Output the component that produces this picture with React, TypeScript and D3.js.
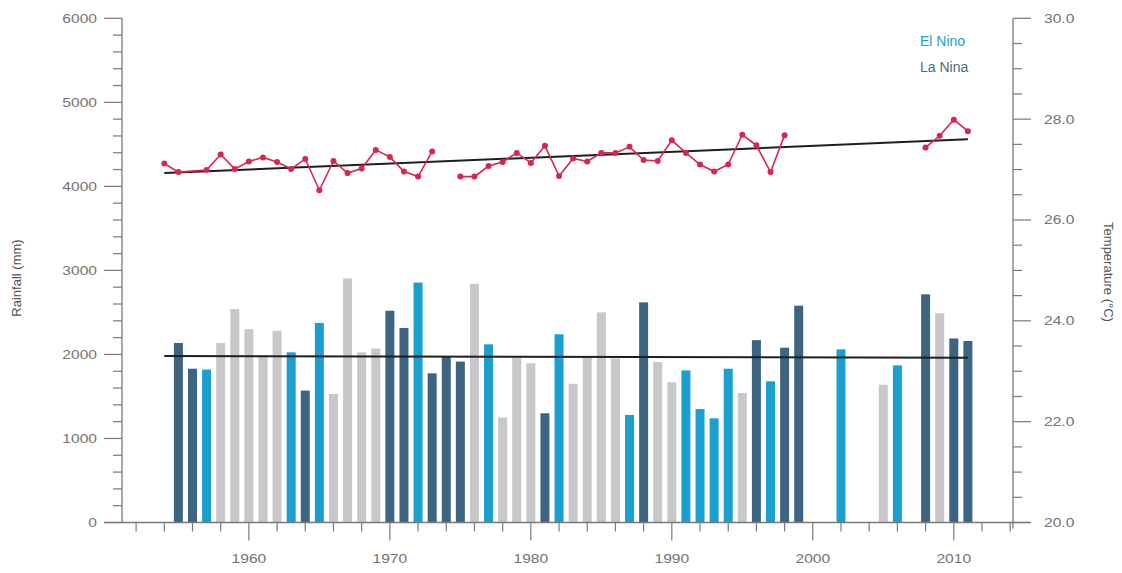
import React from 'react';
import * as d3 from 'd3';

// Rainfall bars (mm) by year, with ENSO phase
const rainYears = [1955,1956,1957,1958,1959,1960,1961,1962,1963,1964,1965,1966,1967,1968,1969,1970,1971,1972,1973,1974,1975,1976,1977,1978,1979,1980,1981,1982,1983,1984,1985,1986,1987,1988,1989,1990,1991,1992,1993,1994,1995,1996,1997,1998,1999,2002,2005,2006,2008,2009,2010,2011];
const rainValues = [2136,1830,1820,2135,2540,2300,1990,2280,2025,1570,2375,1530,2905,2025,2070,2520,2315,2855,1775,1970,1915,2840,2120,1250,1965,1895,1300,2240,1650,1965,2500,1950,1280,2620,1910,1670,1810,1350,1240,1830,1540,2170,1680,2080,2580,2060,1640,1870,2715,2490,2190,2160];
const rainPhase = ['nina','nina','nino','neutral','neutral','neutral','neutral','neutral','nino','nina','nino','neutral','neutral','neutral','neutral','nina','nina','nino','nina','nina','nina','neutral','nino','neutral','neutral','neutral','nina','nino','neutral','neutral','neutral','neutral','nino','nina','neutral','neutral','nino','nino','nino','nino','neutral','nina','nino','nina','nina','nino','neutral','nino','nina','neutral','nina','nina'];

// Mean temperature (°C); null = no data (line break)
const tempYears = [1954,1955,1957,1958,1959,1960,1961,1962,1963,1964,1965,1966,1967,1968,1969,1970,1971,1972,1973,1974,1975,1976,1977,1978,1979,1980,1981,1982,1983,1984,1985,1986,1987,1988,1989,1990,1991,1992,1993,1994,1995,1996,1997,1998,1999,2008,2009,2010,2011];
const tempValues: (number | null)[] = [27.12,26.95,26.99,27.30,27.01,27.16,27.24,27.15,27.01,27.21,26.59,27.17,26.93,27.02,27.39,27.25,26.96,26.86,27.36,null,26.86,26.86,27.07,27.15,27.33,27.13,27.47,26.87,27.22,27.16,27.33,27.33,27.45,27.19,27.17,27.58,27.33,27.10,26.96,27.10,27.69,27.48,26.95,27.68,null,27.44,27.67,27.99,27.76];

// Linear trends
const trendYears = [1954, 2011];
const rainTrend = [1981, 1961];
const tempTrend = [26.93, 27.60];

// Axis ticks
const leftTicks = [0, 1000, 2000, 3000, 4000, 5000, 6000];
const rightTicks = [20, 22, 24, 26, 28, 30];
const yearLabels = [1960, 1970, 1980, 1990, 2000, 2010];

const W = 1122, H = 573;
const AX = '#7a7a7a';
const LBL = '#737373';
const phaseColor: Record<string, string> = { nina: '#3d6481', nino: '#1a9fcf', neutral: '#c8c8ca' };

function SText({ x, y, anchor, children, size = 12, sx = 1.3, fill = LBL }: any) {
  return (
    <text transform={`translate(${x},${y}) scale(${sx},1)`} textAnchor={anchor} fontSize={size}
      fill={fill} fontFamily="'Liberation Sans', Arial, sans-serif">{children}</text>
  );
}

export default function App() {
  const x = d3.scaleLinear().domain([1951, 2014.2]).range([122, 1013]);
  const yL = d3.scaleLinear().domain([0, 6000]).range([522.5, 18.3]);
  const yR = d3.scaleLinear().domain([20, 30]).range([522.5, 18.3]);
  const barW = 9;

  const leftMinor = d3.range(0, 6001, 200);
  const rightMinor = d3.range(20, 30.01, 0.5);
  const xMinor = d3.range(1952, 2015, 2);

  const tempData = tempYears.map((yr, i) => ({ yr, t: tempValues[i] }));
  const line = d3.line<{ yr: number; t: number | null }>()
    .defined(d => d.t != null)
    .x(d => x(d.yr))
    .y(d => yR(d.t as number));

  const base = yL(0);

  return (
    <svg width={W} height={H} style={{ position: 'absolute', left: 0, top: 0, background: '#fff' }}>
      <rect x={0} y={0} width={W} height={H} fill="#ffffff" />
      {/* bars */}
      {rainYears.map((yr, i) => (
        <rect key={yr} x={x(yr) - barW / 2} y={yL(rainValues[i])} width={barW}
          height={base - yL(rainValues[i])} fill={phaseColor[rainPhase[i]]} />
      ))}
      {/* rainfall trend */}
      <line x1={x(trendYears[0])} x2={x(trendYears[1])} y1={yL(rainTrend[0])} y2={yL(rainTrend[1])}
        stroke="#1e1e1e" strokeWidth={2} />
      {/* temperature trend */}
      <line x1={x(trendYears[0])} x2={x(trendYears[1])} y1={yR(tempTrend[0])} y2={yR(tempTrend[1])}
        stroke="#1e1e1e" strokeWidth={2} />
      {/* temperature line */}
      <path d={line(tempData) || ''} fill="none" stroke="#d7264f" strokeWidth={1.6} />
      {tempData.filter(d => d.t != null).map(d => (
        <circle key={d.yr} cx={x(d.yr)} cy={yR(d.t as number)} r={3} fill="#d7264f" />
      ))}

      {/* left axis */}
      <line x1={122} x2={122} y1={yL(6000)} y2={base} stroke={AX} strokeWidth={1.3} />
      {leftMinor.map(v => (
        <line key={'lm' + v} x1={v % 1000 === 0 ? 104 : 113} x2={122} y1={yL(v)} y2={yL(v)} stroke={AX} strokeWidth={1.2} />
      ))}
      {leftTicks.map(v => (
        <SText key={'lt' + v} x={97} y={yL(v) + 4.5} anchor="end">{v}</SText>
      ))}

      {/* right axis */}
      <line x1={1013} x2={1013} y1={yR(30)} y2={yR(20) + 6} stroke={AX} strokeWidth={1.3} />
      {rightMinor.map(v => {
        const major = Math.abs(v - Math.round(v / 2) * 2) < 1e-6;
        return <line key={'rm' + v} x1={1013} x2={major ? 1031 : 1022} y1={yR(v)} y2={yR(v)} stroke={AX} strokeWidth={1.2} />;
      })}
      {rightTicks.map(v => (
        <SText key={'rt' + v} x={1044} y={yR(v) + 4.5} anchor="start">{v.toFixed(1)}</SText>
      ))}

      {/* bottom axis */}
      <line x1={104} x2={1030} y1={base} y2={base} stroke={AX} strokeWidth={1.3} />
      {xMinor.map(yr => (
        <line key={'xm' + yr} x1={x(yr)} x2={x(yr)} y1={base} y2={base + (yr % 10 === 0 ? 18 : 9)} stroke={AX} strokeWidth={1.2} />
      ))}
      {yearLabels.map(yr => (
        <SText key={'xl' + yr} x={x(yr)} y={563} anchor="middle">{yr}</SText>
      ))}

      {/* axis titles */}
      <text transform="translate(21,278) rotate(-90)" textAnchor="middle" fontSize={13} fill="#555"
        fontFamily="'Liberation Sans', Arial, sans-serif">Rainfall (mm)</text>
      <text transform="translate(1104,272) rotate(90)" textAnchor="middle" fontSize={13} fill="#555"
        fontFamily="'Liberation Sans', Arial, sans-serif">Temperature (°C)</text>

      {/* legend */}
      <SText x={920} y={46} anchor="start" size={14} sx={1} fill="#1a9fcf">El Nino</SText>
      <SText x={920} y={72} anchor="start" size={14} sx={1} fill="#4a6b82">La Nina</SText>
    </svg>
  );
}
